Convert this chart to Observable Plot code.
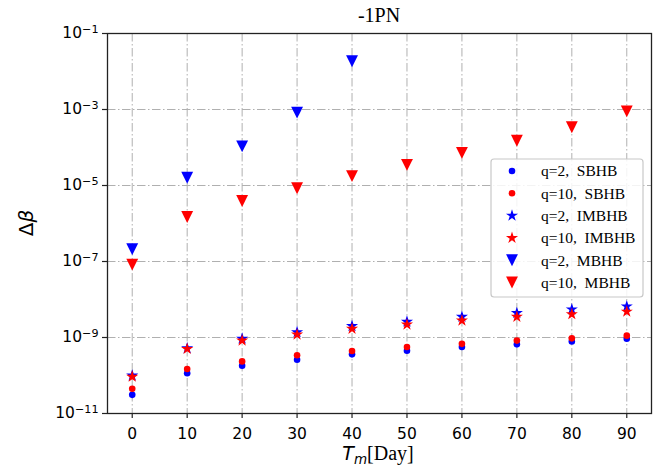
<!DOCTYPE html>
<html><head><meta charset="utf-8">
<script src="https://cdn.jsdelivr.net/npm/d3@7"></script>
<script src="https://cdn.jsdelivr.net/npm/@observablehq/plot@0.6"></script>
<style>body{margin:0;background:#fff}#chart svg{display:block}</style>
</head><body><div id="chart"></div>
<script>
const days = [0, 10, 20, 30, 40, 50, 60, 70, 80, 90];
const sbhbQ2 = [3.1e-11, 1.15e-10, 1.8e-10, 2.6e-10, 3.6e-10, 4.5e-10, 5.6e-10, 6.6e-10, 7.9e-10, 9.3e-10];
const sbhbQ10 = [4.5e-11, 1.48e-10, 2.35e-10, 3.4e-10, 4.4e-10, 5.6e-10, 6.8e-10, 8.3e-10, 9.5e-10, 1.12e-9];
const imbhbQ2 = [1.0e-10, 5.2e-10, 9.3e-10, 1.38e-9, 2.0e-9, 2.6e-9, 3.5e-9, 4.4e-9, 5.5e-9, 6.6e-9];
const imbhbQ10 = [9.3e-11, 5.0e-10, 8.3e-10, 1.2e-9, 1.7e-9, 2.2e-9, 2.8e-9, 3.5e-9, 4.1e-9, 4.8e-9];
const mbhbQ2Days = [0, 10, 20, 30, 40];
const mbhbQ2 = [2.1e-7, 1.6e-5, 1.07e-4, 8.3e-4, 1.86e-2];
const mbhbQ10 = [8.3e-8, 1.48e-6, 3.9e-6, 8.5e-6, 1.76e-5, 3.5e-5, 7.2e-5, 1.5e-4, 3.4e-4, 8.9e-4];
const xTicks = [0, 10, 20, 30, 40, 50, 60, 70, 80, 90];
const yTicks = [1e-11, 1e-9, 1e-7, 1e-5, 1e-3, 1e-1];
const legendLabels = ["q=2,  SBHB", "q=10,  SBHB", "q=2,  IMBHB", "q=10,  IMBHB", "q=2,  MBHB", "q=10,  MBHB"];
const titleText = "-1PN";

const BLUE = "#0000ff", RED = "#ff0000";
const triDown = {
  draw(ctx, size) {
    const h = Math.sqrt(size / Math.PI) * 1.45;
    ctx.moveTo(0, h); ctx.lineTo(-h, -h); ctx.lineTo(h, -h); ctx.closePath();
  }
};
const rows = (xs, ys) => xs.map((d, i) => ({day: d, v: ys[i]}));

const series = [
  {data: rows(days, sbhbQ2), fill: BLUE, symbol: "circle", r: 3.3},
  {data: rows(days, sbhbQ10), fill: RED, symbol: "circle", r: 3.3},
  {data: rows(days, imbhbQ2), fill: BLUE, symbol: "star", r: 3.8},
  {data: rows(days, imbhbQ10), fill: RED, symbol: "star", r: 3.8},
  {data: rows(mbhbQ2Days, mbhbQ2), fill: BLUE, symbol: triDown, r: 4.1},
  {data: rows(days, mbhbQ10), fill: RED, symbol: triDown, r: 4.1}
];

const gridStyle = {stroke: "#b0b0b0", strokeOpacity: 1, strokeWidth: 1, strokeDasharray: "8.5,2.5,1.5,2.5"};

const chart = Plot.plot({
  width: 672, height: 472,
  marginLeft: 107, marginRight: 21, marginTop: 33, marginBottom: 59,
  style: {fontFamily: "DejaVu Sans", fontSize: "15.5px", color: "#000", background: "#fff"},
  x: {domain: [-4.5, 94.5], label: null},
  y: {type: "log", domain: [1e-11, 1e-1], label: null},
  marks: [
    Plot.ruleX(xTicks, {x: d => d, ...gridStyle}),
    Plot.ruleY(yTicks, {y: d => d, ...gridStyle}),
    ...series.map(s => Plot.dot(s.data, {x: "day", y: "v", fill: s.fill, symbol: s.symbol, r: s.r, stroke: "none"})),
    Plot.frame({stroke: "#222", strokeWidth: 1.3}),
    Plot.axisX({ticks: xTicks, tickSize: 5, tickPadding: 9, label: null, stroke: "#222", strokeWidth: 1.2}),
    Plot.axisY({ticks: yTicks, tickSize: 5, tickPadding: 4, label: null, stroke: "#222", strokeWidth: 1.2,
      tickFormat: d => "10^" + Math.round(Math.log10(d))})
  ]
});
document.getElementById("chart").appendChild(chart);

const svg = d3.select(chart);
// superscript tick labels
svg.selectAll("text").each(function() {
  const t = this.textContent;
  const m = /^10\^(-?\d+)$/.exec(t);
  if (m) {
    const sel = d3.select(this);
    sel.selectAll("*").remove();
    sel.text("10");
    sel.append("tspan").attr("dy", "-0.5em").attr("font-size", "0.72em").text(m[1].replace("-", "\u2212"));
  }
});

// title
svg.append("text").attr("x", 379).attr("y", 22).attr("text-anchor", "middle")
  .attr("font-family", "Liberation Serif").attr("font-size", 20).attr("fill", "#000").text(titleText);

// x label
const xl = svg.append("text").attr("x", 378).attr("y", 460).attr("text-anchor", "middle").attr("fill", "#000");
xl.append("tspan").attr("font-family", "DejaVu Sans").attr("font-style", "italic").attr("font-size", 19).text("T");
xl.append("tspan").attr("font-family", "DejaVu Sans").attr("font-style", "italic").attr("font-size", 13.5).attr("dy", 4).text("m");
xl.append("tspan").attr("font-family", "Liberation Serif").attr("font-size", 20).attr("dy", -4).text("[Day]");

// y label
const yl = svg.append("text").attr("transform", "translate(33,223) rotate(-90)").attr("text-anchor", "middle").attr("fill", "#000")
  .attr("font-family", "DejaVu Sans").attr("font-size", 20);
yl.append("tspan").text("\u0394");
yl.append("tspan").attr("font-style", "italic").text("\u03b2");

// legend
const lg = svg.append("g").attr("text-anchor", "start");
lg.append("rect").attr("x", 491).attr("y", 159).attr("width", 152).attr("height", 138).attr("rx", 3).attr("ry", 3)
  .attr("fill", "#ffffff").attr("fill-opacity", 0.85).attr("stroke", "#c8c8c8").attr("stroke-width", 1.2);
series.forEach((s, i) => {
  const y = 171 + i * 22.3;
  const type = s.symbol === "circle" ? d3.symbolCircle : s.symbol === "star" ? d3.symbolStar : s.symbol;
  lg.append("path").attr("transform", `translate(512,${y})`)
    .attr("d", d3.symbol(type, s.r * s.r * Math.PI)()).attr("fill", s.fill).attr("stroke", "none");
  lg.append("text").attr("x", 541).attr("y", y).attr("dy", "0.35em").attr("text-anchor", "start")
    .attr("font-family", "Liberation Serif").attr("font-size", 15.5).attr("fill", "#000")
    .style("white-space", "pre").text(legendLabels[i]);
});
</script>
</body></html>
